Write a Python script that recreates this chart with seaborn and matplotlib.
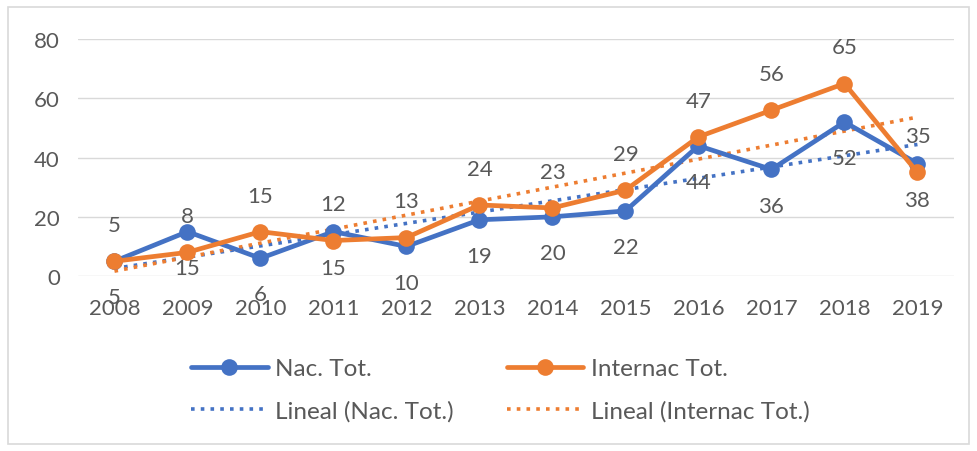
import pandas as pd
import matplotlib.pyplot as plt
import seaborn as sns
from matplotlib.patches import Rectangle

# Chart data
years = ['2008', '2009', '2010', '2011', '2012', '2013', '2014', '2015', '2016', '2017', '2018', '2019']
nac_tot = [5, 15, 6, 15, 10, 19, 20, 22, 44, 36, 52, 38]
internac_tot = [5, 8, 15, 12, 13, 24, 23, 29, 47, 56, 65, 35]
series_names = ['Nac. Tot.', 'Internac Tot.']

blue = '#4472C4'
orange = '#ED7D31'
text_gray = '#595959'
grid_gray = '#D9D9D9'

sns.set_style('white')
plt.rcParams['font.family'] = ['Lato', 'DejaVu Sans']

# Long-format table for seaborn
pos = list(range(len(years)))
df = pd.DataFrame({
    'pos': pos * 2,
    'value': nac_tot + internac_tot,
    'serie': [series_names[0]] * len(years) + [series_names[1]] * len(years),
})

fig = plt.figure(figsize=(9.77, 4.52), dpi=100)
ax = fig.add_axes([0.0798, 0.387, 0.8966, 0.5243])

# Light frame around the whole chart area
fig.patches.append(Rectangle((8 / 977, 7 / 452), 961 / 977, 437 / 452, transform=fig.transFigure,
                             fill=False, edgecolor=grid_gray, linewidth=1.2, zorder=0))

# Linear trend lines
trend_handles = []
for name, vals, col in [(series_names[0], nac_tot, blue), (series_names[1], internac_tot, orange)]:
    sns.regplot(x=pos, y=vals, ax=ax, scatter=False, ci=None, truncate=True,
                line_kws={'color': col, 'linestyle': (0, (1, 1.7)), 'linewidth': 2.6, 'zorder': 2})
    trend_handles.append(ax.lines[-1])

# Main series
sns.lineplot(data=df, x='pos', y='value', hue='serie', palette=[blue, orange],
             marker='o', markersize=12, markeredgewidth=0, linewidth=3.4, ax=ax, zorder=3)

# Data labels: national below, international above
for i, v in enumerate(nac_tot):
    ax.annotate(str(v), (i, v), xytext=(0, -26), textcoords='offset points',
                ha='center', va='center', fontsize=16, color=text_gray, zorder=4)
for i, v in enumerate(internac_tot):
    ax.annotate(str(v), (i, v), xytext=(0, 26), textcoords='offset points',
                ha='center', va='center', fontsize=16, color=text_gray, zorder=4)

ax.set_xlim(-0.5, len(years) - 0.5)
ax.set_ylim(0, 80)
ax.set_xticks(pos)
ax.set_xticklabels(years)
ax.set_yticks([0, 20, 40, 60, 80])
ax.tick_params(axis='x', length=0, pad=16, labelsize=16, labelcolor=text_gray)
ax.tick_params(axis='y', length=0, pad=13, labelsize=16, labelcolor=text_gray)
ax.yaxis.grid(True, color=grid_gray, linewidth=1)
ax.set_axisbelow(True)
for s in ax.spines.values():
    s.set_visible(False)
ax.set_xlabel('')
ax.set_ylabel('')

# Legend: two columns below the plot
handles, labels = ax.get_legend_handles_labels()
lookup = dict(zip(labels, handles))
order_handles = [lookup[series_names[0]], trend_handles[0], lookup[series_names[1]], trend_handles[1]]
order_labels = [series_names[0], f'Lineal ({series_names[0]})',
                series_names[1], f'Lineal ({series_names[1]})']
ax.legend(order_handles, order_labels, ncol=2, loc='center',
          bbox_to_anchor=(0.512, 0.135), bbox_transform=fig.transFigure,
          frameon=False, fontsize=17.5, labelcolor=text_gray, handlelength=3.15,
          handletextpad=0.3, columnspacing=2.2, labelspacing=0.85)

fig.savefig('out.png', dpi=100)
